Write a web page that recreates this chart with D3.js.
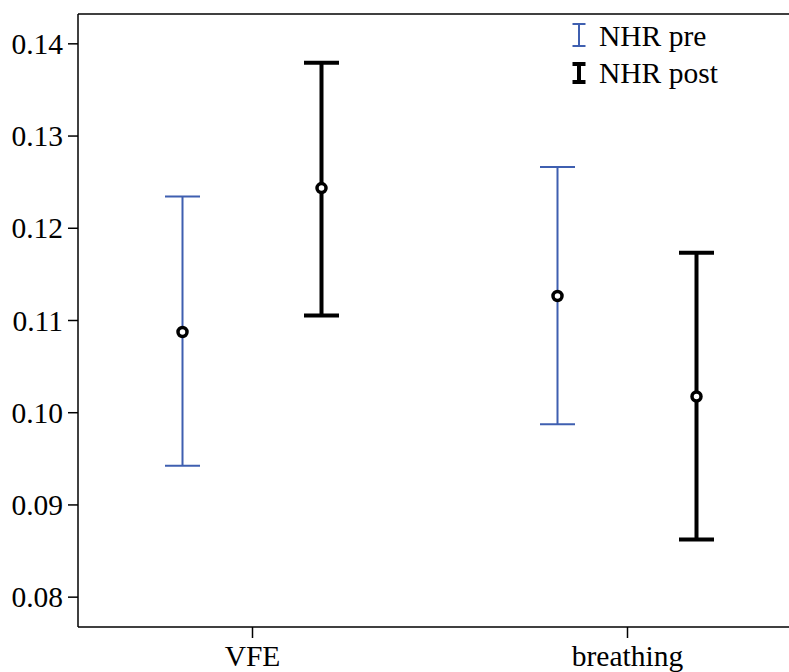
<!DOCTYPE html>
<html>
<head>
<meta charset="utf-8">
<script src="https://cdn.jsdelivr.net/npm/d3@7"></script>
<style>
  html, body { margin: 0; padding: 0; background: #fff; }
  svg { display: block; }
</style>
</head>
<body>
<svg id="chart" width="789" height="672"></svg>
<script>
// ---- data ----
const categories = ["VFE", "breathing"];
const seriesNames = ["NHR pre", "NHR post"];
const meanPre  = [0.1087, 0.1126];
const lowPre   = [0.0942, 0.0987];
const highPre  = [0.1234, 0.1266];
const meanPost = [0.1243, 0.1017];
const lowPost  = [0.1105, 0.0862];
const highPost = [0.1379, 0.1173];
const yTicks = [0.08, 0.09, 0.10, 0.11, 0.12, 0.13, 0.14];

const FONT = "'Liberation Serif', 'Times New Roman', serif";
const FS = 29.5;

const seriesStyle = {
  "NHR pre":  { color: "#3f5fb0", width: 2 },
  "NHR post": { color: "#000000", width: 4 }
};

const rows = [];
categories.forEach((c, i) => {
  rows.push({ cat: c, s: "NHR pre",  mean: meanPre[i],  lo: lowPre[i],  hi: highPre[i] });
  rows.push({ cat: c, s: "NHR post", mean: meanPost[i], lo: lowPost[i], hi: highPost[i] });
});

const svg = d3.select("#chart");
const plotLeft = 78, plotTop = 14, plotBottom = 627, plotRight = 789;

const y = d3.scaleLinear().domain([0.07671, 0.14318]).range([plotBottom, plotTop]);
const x = d3.scalePoint().domain(categories).range([252, 627]);
const off = d3.scalePoint().domain(seriesNames).range([-69.5, 69.5]);

svg.append("line").attr("x1", plotLeft).attr("x2", plotRight).attr("y1", plotTop).attr("y2", plotTop)
  .attr("stroke", "#000").attr("stroke-width", 1.5);

const yAxis = d3.axisLeft(y).tickValues(yTicks).tickFormat(d3.format(".2f")).tickSize(10).tickPadding(5);
const gy = svg.append("g").attr("transform", `translate(${plotLeft},0)`).call(yAxis)
  .attr("font-family", FONT).attr("font-size", FS);
gy.select(".domain").attr("stroke-width", 1.5).attr("d", `M0,${plotTop}V${plotBottom}`);
gy.selectAll(".tick line").attr("stroke-width", 1.5);
gy.selectAll(".tick text").attr("dy", "0.34em");

const xAxis = d3.axisBottom(x).tickSize(11).tickPadding(7);
const gx = svg.append("g").attr("transform", `translate(0,${plotBottom})`).call(xAxis)
  .attr("font-family", FONT).attr("font-size", FS);
gx.select(".domain").attr("stroke-width", 1.5).attr("d", `M${plotLeft},0H${plotRight}`);
gx.selectAll(".tick line").attr("stroke-width", 1.5);
gx.selectAll(".tick text").attr("dy", "0.71em");

const capHalf = 17.5;
const g = svg.append("g");
rows.forEach(r => {
  const cx = x(r.cat) + off(r.s);
  const st = seriesStyle[r.s];
  const eb = g.append("g").attr("stroke", st.color).attr("stroke-width", st.width);
  eb.append("line").attr("x1", cx).attr("x2", cx).attr("y1", y(r.hi)).attr("y2", y(r.lo));
  eb.append("line").attr("x1", cx - capHalf).attr("x2", cx + capHalf).attr("y1", y(r.hi)).attr("y2", y(r.hi));
  eb.append("line").attr("x1", cx - capHalf).attr("x2", cx + capHalf).attr("y1", y(r.lo)).attr("y2", y(r.lo));
});
rows.forEach(r => {
  const cx = x(r.cat) + off(r.s);
  g.append("circle").attr("cx", cx).attr("cy", y(r.mean)).attr("r", 4.5)
    .attr("fill", "#fff").attr("stroke", "#000").attr("stroke-width", 3.5);
});

const legend = svg.append("g").attr("transform", "translate(579,0)");
seriesNames.forEach((s, i) => {
  const st = seriesStyle[s];
  const yTop = i === 0 ? 24 : 64;
  const yBot = i === 0 ? 46 : 82;
  const half = 6.5;
  const lg = legend.append("g").attr("stroke", st.color).attr("stroke-width", st.width);
  lg.append("line").attr("x1", 0).attr("x2", 0).attr("y1", yTop).attr("y2", yBot);
  lg.append("line").attr("x1", -half).attr("x2", half).attr("y1", yTop).attr("y2", yTop);
  lg.append("line").attr("x1", -half).attr("x2", half).attr("y1", yBot).attr("y2", yBot);
  legend.append("text").attr("x", 20).attr("y", i === 0 ? 46 : 83)
    .attr("font-family", FONT).attr("font-size", FS).text(s);
});
</script>
</body>
</html>
